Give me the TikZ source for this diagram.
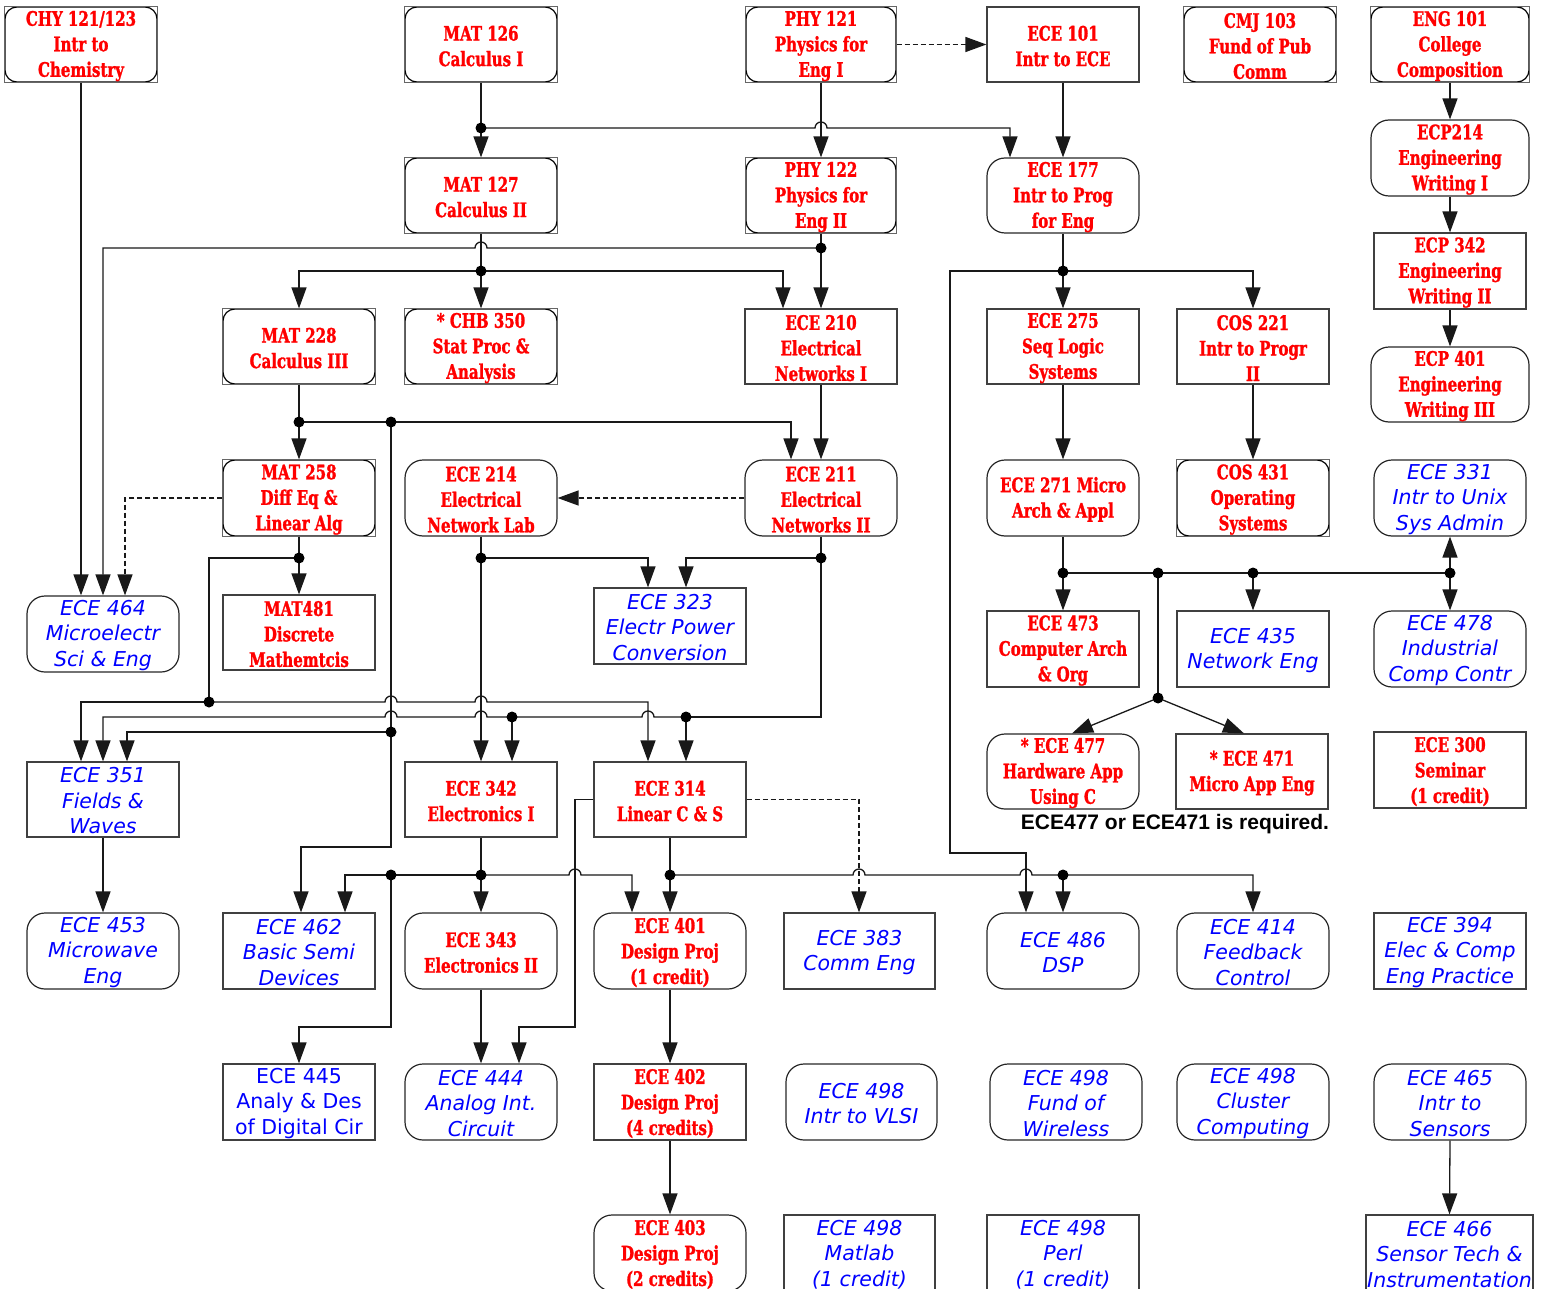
\documentclass[tikz,border=0pt]{standalone}
\usepackage{fontspec}
\usetikzlibrary{arrows.meta}
\newfontfamily\crsRfam{DejaVu Serif}[FakeStretch=0.75, FakeBold=1.3]
\newfontfamily\crsBfam{DejaVu Sans}
\newfontfamily\crsLfam{Liberation Sans}
\newcommand\crsRed{\crsRfam\bfseries\fontsize{20}{25.5}\selectfont}
\newcommand\crsBlue{\crsBfam\itshape\fontsize{20.5}{25.5}\selectfont}
\newcommand\crsBlueUp{\crsBfam\fontsize{20.5}{25.5}\selectfont}
\newcommand\crs[7]{\node[#6, minimum width={(#4)-(#2)}, minimum height={(#5)-(#3)}] (#1) at ({((#2)+(#4))/2},{((#3)+(#5))/2}) {\rule{0pt}{18pt}#7};}
\newcommand\crsc[7]{\crs{#1}{#2}{#3}{#4}{#5}{cb,#6}{#7}\draw[outerbox] (#1.south west) rectangle (#1.north east);}
\tikzset{
  ln/.style={line width=1.3pt, draw=black!90},
  arr/.style={ln, -{Triangle[length=21pt,width=15pt]}},
  dsh/.style={dash pattern=on 5pt off 3pt},
  crsbase/.style={inner sep=0pt, align=center, line width=1.2pt},
  rtx/.style={text=red, font=\crsRed},
  btx/.style={text=blue, font=\crsBlue},
  btu/.style={text=blue, font=\crsBlueUp},
  sq/.style={crsbase, draw=black!75},
  rd/.style={crsbase, draw=black!85, rounded corners=18pt},
  cb/.style={crsbase, draw=black, rounded corners=12pt},
  outerbox/.style={draw=black!60, line width=1pt},
}
\begin{document}
\begin{tikzpicture}[x=1pt,y=-1pt]
\useasboundingbox (0,0) rectangle (1547,1289);
% ---------- row 1
\crsc{chy}{5}{7}{157}{82}{rtx}{CHY 121/123\\Intr to\\Chemistry}
\crsc{m126}{405}{7}{557}{82}{rtx}{MAT 126\\Calculus I}
\crsc{p121}{746}{7}{896}{82}{rtx}{PHY 121\\Physics for\\Eng I}
\crs{e101}{987}{7}{1139}{82}{sq,rtx}{ECE 101\\Intr to ECE}
\crsc{cmj}{1184}{7}{1336}{82}{rtx}{CMJ 103\\Fund of Pub\\Comm}
\crsc{eng}{1371}{7}{1529}{82}{rtx}{ENG 101\\College\\Composition}
% ---------- row 2
\crsc{m127}{405}{158}{557}{233}{rtx}{MAT 127\\Calculus II}
\crsc{p122}{746}{158}{896}{233}{rtx}{PHY 122\\Physics for\\Eng II}
\crs{e177}{987}{158}{1139}{233}{rd,rtx}{ECE 177\\Intr to Prog\\for Eng}
\crs{ecp214}{1371}{120}{1529}{196}{rd,rtx}{ECP214\\Engineering\\Writing I}
\crs{ecp342}{1374}{233}{1526}{309}{sq,rtx}{ECP 342\\Engineering\\Writing II}
\crs{ecp401}{1371}{347}{1529}{422}{rd,rtx}{ECP 401\\Engineering\\Writing III}
% ---------- row 3
\crsc{m228}{223}{309}{375}{384}{rtx}{MAT 228\\Calculus III}
\crsc{chb}{405}{309}{557}{384}{rtx}{* CHB 350\\Stat Proc \&\\Analysis}
\crs{e210}{745}{309}{897}{384}{sq,rtx}{ECE 210\\Electrical\\Networks I}
\crs{e275}{987}{309}{1139}{384}{sq,rtx}{ECE 275\\Seq Logic\\Systems}
\crs{cos221}{1177}{309}{1329}{384}{sq,rtx}{COS 221\\Intr to Progr\\II}
% ---------- row 4
\crsc{m258}{223}{460}{375}{536}{rtx}{MAT 258\\Diff Eq \&\\Linear Alg}
\crs{e214}{405}{460}{557}{536}{rd,rtx}{ECE 214\\Electrical\\Network Lab}
\crs{e211}{745}{460}{897}{536}{rd,rtx}{ECE 211\\Electrical\\Networks II}
\crs{e271}{987}{460}{1139}{536}{rd,rtx}{ECE 271 Micro\\Arch \& Appl}
\crsc{cos431}{1177}{460}{1329}{536}{rtx}{COS 431\\Operating\\Systems}
\crs{e331}{1374}{460}{1526}{536}{rd,btx}{ECE 331\\Intr to Unix\\Sys Admin}
% ---------- row 5
\crs{e464}{27}{596}{179}{672}{rd,btx}{ECE 464\\Microelectr\\Sci \& Eng}
\crs{m481}{223}{595}{375}{670}{sq,rtx}{MAT481\\Discrete\\Mathemtcis}
\crs{e323}{594}{588}{746}{664}{sq,btx}{ECE 323\\Electr Power\\Conversion}
\crs{e473}{987}{611}{1139}{687}{sq,rtx}{ECE 473\\Computer Arch\\\& Org}
\crs{e435}{1177}{611}{1329}{687}{sq,btx}{ECE 435\\Network Eng}
\crs{e478}{1374}{611}{1526}{687}{rd,btx}{ECE 478\\Industrial\\Comp Contr}
% ---------- row 6
\crs{e351}{27}{762}{179}{837}{sq,btx}{ECE 351\\Fields \&\\Waves}
\crs{e342}{405}{762}{557}{837}{sq,rtx}{ECE 342\\Electronics I}
\crs{e314}{594}{762}{746}{837}{sq,rtx}{ECE 314\\Linear C \& S}
\crs{e477}{987}{734}{1139}{809}{rd,rtx}{* ECE 477\\Hardware App\\Using C}
\crs{e471}{1176}{734}{1328}{809}{sq,rtx}{* ECE 471\\Micro App Eng}
\crs{e300}{1374}{732}{1526}{808}{sq,rtx}{ECE 300\\Seminar\\(1 credit)}
\node[font=\crsLfam\bfseries\fontsize{21}{24}\selectfont, inner sep=0pt] (req) at (1175,824) {ECE477 or ECE471 is required.};
% ---------- row 7
\crs{e453}{27}{913}{179}{989}{rd,btx}{ECE 453\\Microwave\\Eng}
\crs{e462}{223}{913}{375}{989}{sq,btx}{ECE 462\\Basic Semi\\Devices}
\crs{e343}{405}{913}{557}{989}{rd,rtx}{ECE 343\\Electronics II}
\crs{e401}{594}{913}{746}{989}{rd,rtx}{ECE 401\\Design Proj\\(1 credit)}
\crs{e383}{784}{913}{935}{989}{sq,btx}{ECE 383\\Comm Eng}
\crs{e486}{987}{913}{1139}{989}{rd,btx}{ECE 486\\DSP}
\crs{e414}{1177}{913}{1329}{989}{rd,btx}{ECE 414\\Feedback\\Control}
\crs{e394}{1374}{913}{1526}{989}{sq,btx}{ECE 394\\Elec \& Comp\\Eng Practice}
% ---------- row 8
\crs{e445}{223}{1064}{375}{1140}{sq,btu}{ECE 445\\Analy \& Des\\of Digital Cir}
\crs{e444}{405}{1064}{557}{1140}{rd,btx}{ECE 444\\Analog Int.\\Circuit}
\crs{e402}{594}{1064}{746}{1140}{sq,rtx}{ECE 402\\Design Proj\\(4 credits)}
\crs{vlsi}{786}{1064}{937}{1140}{rd,btx}{ECE 498\\Intr to VLSI}
\crs{wls}{990}{1064}{1142}{1140}{rd,btx}{ECE 498\\Fund of\\Wireless}
\crs{clu}{1177}{1064}{1329}{1140}{rd,btx}{ECE 498\\Cluster\\Computing}
\crs{e465}{1374}{1064}{1526}{1140}{rd,btx}{ECE 465\\Intr to\\Sensors}
% ---------- row 9
\crs{e403}{594}{1215}{746}{1291}{rd,rtx}{ECE 403\\Design Proj\\(2 credits)}
\crs{mlab}{784}{1215}{935}{1291}{sq,btx}{ECE 498\\Matlab\\(1 credit)}
\crs{perl}{987}{1215}{1139}{1291}{sq,btx}{ECE 498\\Perl\\(1 credit)}
\crs{e466}{1366}{1215}{1533}{1291}{sq,btx}{ECE 466\\Sensor Tech \&\\Instrumentation}
% ---------- junctions
\coordinate (j1) at (481,128);
\coordinate (j2) at (481,271);
\coordinate (j3) at (821,248);
\coordinate (j4) at (1063,271);
\coordinate (j5) at (299,422);
\coordinate (j6) at (391,422);
\coordinate (j7) at (391,732);
\coordinate (j8) at (299,558);
\coordinate (j9) at (209,702);
\coordinate (j10) at (481,558);
\coordinate (j11) at (821,558);
\coordinate (j12) at (686,717);
\coordinate (j13) at (512,717);
\coordinate (j14) at (1063,573);
\coordinate (j15) at (1158,573);
\coordinate (j16) at (1253,573);
\coordinate (j17) at (1450,573);
\coordinate (j18) at (1158,698);
\coordinate (j19) at (481,875);
\coordinate (j20) at (391,875);
\coordinate (j21) at (670,875);
\coordinate (j22) at (1063,875);
% ---------- connectors
\draw[arr] (81,0 |- chy.south) -- (81,0 |- e464.north);
\draw[ln] (m126.south) -- (j1);
\draw[arr] (j1) -- (m127.north);
\draw[arr] (j1) -- (815,128) arc[start angle=180,end angle=0,radius=6pt] -- (1010,128) -- (1010,0 |- e177.north);
\draw[arr] (p121.south) -- (p122.north);
\draw[arr,dsh] (p121.east) -- (e101.west);
\draw[arr] (e101.south) -- (e177.north);
\draw[arr] (eng.south) -- (ecp214.north);
\draw[arr] (ecp214.south) -- (ecp342.north);
\draw[arr] (ecp342.south) -- (ecp401.north);
\draw[ln] (m127.south) -- (j2);
\draw[arr] (j2) -- (chb.north);
\draw[arr] (j2) -| (m228.north);
\draw[arr] (j2) -- (783,271) -- (783,0 |- e210.north);
\draw[ln] (p122.south) -- (j3);
\draw[arr] (j3) -- (e210.north);
\draw[arr] (j3) -- (487,248) arc[start angle=0,end angle=180,radius=6pt] -- (103,248) -- (103,0 |- e464.north);
\draw[ln] (e177.south) -- (j4);
\draw[arr] (j4) -- (e275.north);
\draw[arr] (j4) -| (cos221.north);
\draw[arr] (j4) -- (950,271) -- (950,853) -- (1026,853) -- (1026,0 |- e486.north);
\draw[arr] (e275.south) -- (e271.north);
\draw[arr] (cos221.south) -- (cos431.north);
\draw[ln] (m228.south) -- (j5);
\draw[arr] (j5) -- (m258.north);
\draw[arr] (j5) -- (791,422) -- (791,0 |- e211.north);
\draw[ln] (j6) -- (j7);
\draw[arr] (j7) -- (127,732) -- (127,0 |- e351.north);
\draw[arr] (j7) -- (391,847) -- (301,847) -- (301,0 |- e462.north);
\draw[arr] (e210.south) -- (e211.north);
\draw[arr,dsh] (e211.west) -- (e214.east);
\draw[arr,dsh] (m258.west) -- (125,0 |- m258.west) -- (125,0 |- e464.north);
\draw[ln] (m258.south) -- (j8);
\draw[arr] (j8) -- (m481.north);
\draw[ln] (j8) -- (209,558) -- (j9);
\draw[arr] (j9) -- (81,702) -- (81,0 |- e351.north);
\draw[arr] (j9) -- (385,702) arc[start angle=180,end angle=0,radius=6pt] -- (475,702) arc[start angle=180,end angle=0,radius=6pt] -- (648,702) -- (648,0 |- e314.north);
\draw[ln] (e214.south) -- (j10);
\draw[arr] (j10) -- (648,558) -- (648,0 |- e323.north);
\draw[arr] (j10) -- (e342.north);
\draw[ln] (e211.south) -- (j11);
\draw[arr] (j11) -- (686,558) -- (686,0 |- e323.north);
\draw[ln] (j11) -- (821,717) -- (j12);
\draw[arr] (j12) -- (686,0 |- e314.north);
\draw[ln] (j12) -- (654,717) arc[start angle=0,end angle=180,radius=6pt] -- (j13);
\draw[arr] (j13) -- (512,0 |- e342.north);
\draw[arr] (j13) -- (487,717) arc[start angle=0,end angle=180,radius=6pt] -- (397,717) arc[start angle=0,end angle=180,radius=6pt] -- (103,717) -- (103,0 |- e351.north);
\draw[ln] (e271.south) -- (j14);
\draw[arr] (j14) -- (e473.north);
\draw[ln] (j14) -- (j17);
\draw[arr] (j16) -- (e435.north);
\draw[arr] (j17) -- (e331.south);
\draw[arr] (j17) -- (e478.north);
\draw[ln] (j15) -- (j18);
\draw[arr] (j18) -- (1072,0 |- e477.north);
\draw[arr] (j18) -- (1244,0 |- e471.north);
\draw[arr] (e351.south) -- (e453.north);
\draw[ln] (e342.south) -- (j19);
\draw[arr] (j19) -- (e343.north);
\draw[arr] (j19) -- (345,875) -- (345,0 |- e462.north);
\draw[arr] (j20) -- (391,1027) -- (299,1027) -- (299,0 |- e445.north);
\draw[arr] (j19) -- (569,875) arc[start angle=180,end angle=0,radius=6pt] -- (632,875) -- (632,0 |- e401.north);
\draw[ln] (e314.south) -- (j21);
\draw[arr] (j21) -- (e401.north);
\draw[arr] (j21) -- (853,875) arc[start angle=180,end angle=0,radius=6pt] -- (1020,875) arc[start angle=180,end angle=0,radius=6pt] -- (1253,875) -- (1253,0 |- e414.north);
\draw[arr] (j22) -- (e486.north);
\draw[arr] (e314.west) -- (575,0 |- e314.west) -- (575,1027) -- (519,1027) -- (519,0 |- e444.north);
\draw[arr,dsh] (e314.east) -- (859,0 |- e314.east) -- (859,0 |- e383.north);
\draw[arr] (e343.south) -- (e444.north);
\draw[arr] (e401.south) -- (e402.north);
\draw[arr] (e402.south) -- (e403.north);
\draw[arr] (e465.south) -- (e466.north);
% ---------- dots
\foreach \j in {j1,j2,j3,j4,j5,j6,j7,j8,j9,j10,j11,j12,j13,j14,j15,j16,j17,j18,j19,j20,j21,j22}
  \fill[black] (\j) circle (5.5pt);
\end{tikzpicture}
\end{document}
